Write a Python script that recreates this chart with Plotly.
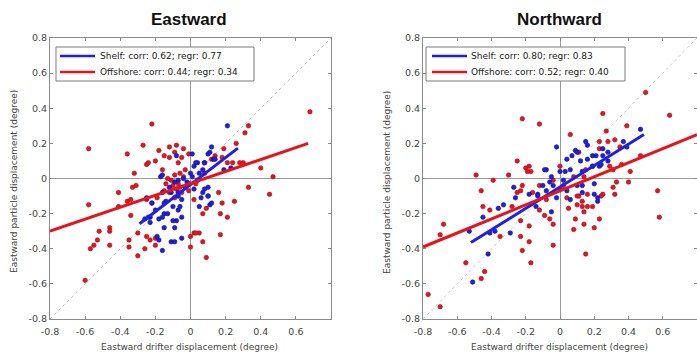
import plotly.graph_objects as go

# ---------------- data ----------------
# Left panel (Eastward): shelf (blue) points
east_shelf_x = [-0.08, -0.17, -0.07, -0.25, -0.22, -0.23, -0.18, -0.15, -0.13, -0.26, -0.23, -0.19, -0.18, -0.16,
                -0.11, -0.09, -0.05, -0.14, -0.16, -0.11, -0.07, -0.06, -0.08,
                0.21, 0.12, 0.11, 0.04, 0.08, 0.13, 0.19, 0.23, 0.08, 0.06, 0.10, 0.05, 0.11,
                0.01, 0.10, 0.14, 0.03, 0.07, -0.16, 0.01, 0.04, -0.01, -0.03, 0.10, 0.07, -0.07, -0.05,
                -0.15, -0.20, -0.10, -0.07, -0.24, -0.16, -0.10, -0.05, -0.15, -0.09, 0.12, 0.10, 0.08, 0.02,
                -0.02, 0.00, -0.04, 0.02, -0.12, -0.09, 0.05]
east_shelf_y = [0.13, 0.01, -0.01, -0.11, -0.14, -0.22, -0.23, -0.20, -0.20, -0.23, -0.25, -0.33, -0.35, -0.41,
                -0.36, -0.36, -0.34, -0.13, -0.08, -0.08, -0.10, -0.16, -0.24,
                0.30, 0.18, 0.15, 0.09, 0.09, 0.11, 0.05, 0.06, -0.06, -0.11, -0.10, -0.16, -0.15,
                0.14, 0.14, 0.11, 0.09, 0.05, 0.02, 0.01, -0.01, -0.03, -0.05, -0.05, -0.08, -0.08, -0.12,
                -0.14, -0.18, -0.16, -0.18, -0.22, -0.22, -0.24, -0.22, -0.28, -0.28, -0.14, -0.10, 0.09, 0.07,
                -0.02, 0.03, 0.00, -0.06, -0.05, -0.02, 0.03]

# Left panel (Eastward): offshore (red) points
east_off_x = [-0.22, -0.58, -0.27, -0.36, -0.25, -0.32, -0.31, -0.33, -0.41, -0.36, -0.34, -0.58, -0.41, -0.34,
              -0.52, -0.46, -0.46, -0.53, -0.46, -0.57, -0.55, -0.35, -0.35, -0.30, -0.30, -0.25, -0.23, -0.26,
              -0.20, -0.60, -0.20,
              0.68, 0.33, 0.31, 0.26, 0.19, 0.14, 0.21, 0.28, 0.30, 0.40, 0.47, 0.33, 0.45, 0.16, 0.25, 0.02,
              0.09, 0.17, 0.02, 0.05, 0.07, 0.17, 0.09, 0.00,
              -0.24, -0.15, -0.12, -0.09, -0.05, -0.07, -0.01, -0.16, -0.03, -0.04, -0.07, -0.15, -0.12, -0.19,
              -0.09, -0.01, 0.03, 0.08, 0.12, 0.18, 0.24, -0.25, -0.22, 0.21, 0.03, 0.00, 0.18, 0.07,
              -0.10, -0.08, -0.06, -0.11, -0.13, -0.05, -0.09, -0.14, -0.06, -0.20, -0.18, -0.12, -0.08, -0.04]
east_off_y = [0.31, 0.17, 0.19, 0.14, 0.08, 0.03, -0.04, -0.05, -0.08, -0.13, -0.12, -0.15, -0.16, -0.21,
              -0.30, -0.28, -0.30, -0.35, -0.38, -0.40, -0.38, -0.35, -0.39, -0.31, -0.44, -0.33, -0.35, -0.40,
              -0.38, -0.58, -0.34,
              0.38, 0.30, 0.26, 0.20, 0.17, 0.13, 0.09, 0.09, 0.09, 0.06, 0.01, -0.05, -0.09, -0.08, -0.13, -0.12,
              -0.17, -0.20, -0.31, -0.31, -0.36, -0.32, -0.45, -0.39,
              0.09, 0.13, 0.12, 0.15, 0.12, 0.09, 0.14, 0.05, 0.05, 0.01, -0.03, -0.07, -0.08, -0.11,
              -0.11, -0.07, -0.03, 0.03, 0.11, 0.12, 0.09, -0.12, -0.14, -0.22, -0.31, -0.33, -0.14, -0.20,
              -0.04, -0.06, -0.05, -0.01, 0.00, -0.08, 0.02, -0.03, 0.03, 0.10, 0.16, 0.18, 0.19, 0.17]

# Right panel (Northward): shelf (blue) points
north_shelf_x = [-0.02, -0.08, -0.27, -0.26, -0.33, -0.36, -0.45, -0.13, -0.10, -0.06, -0.14, -0.05, -0.29, -0.38,
                 -0.41, -0.53, -0.42, -0.51,
                 0.47, 0.16, 0.09, 0.19, 0.25, 0.04, 0.12, 0.19, 0.23, 0.03, 0.13, 0.20, 0.20, 0.22,
                 0.15, 0.07, 0.10, 0.16, 0.21, 0.25, 0.28, 0.19, 0.24, 0.28, 0.13, 0.06, 0.00, -0.09, -0.05, 0.02,
                 -0.04, -0.08, -0.13, 0.10, 0.13, 0.04, -0.18, -0.02, 0.22, 0.06, 0.37, 0.39]
north_shelf_y = [0.18, 0.05, -0.05, -0.11, -0.15, -0.17, -0.22, -0.09, -0.04, -0.02, -0.16, -0.19, -0.31, -0.30,
                 -0.31, -0.30, -0.43, -0.59,
                 0.28, 0.19, 0.16, 0.13, 0.13, 0.11, 0.10, 0.07, 0.07, 0.04, -0.04, -0.03, -0.09, -0.13,
                 0.21, 0.13, 0.15, 0.11, 0.13, 0.17, 0.15, 0.07, 0.08, 0.10, 0.04, 0.05, 0.04, 0.05, 0.01, -0.01,
                 -0.04, -0.07, -0.10, -0.04, -0.08, -0.07, -0.09, -0.11, -0.11, -0.12, 0.21, 0.18]

# Right panel (Northward): offshore (red) points
north_off_x = [-0.22, -0.12, -0.25, -0.18, -0.20, -0.17, -0.49, -0.39, -0.30, -0.22, -0.25, -0.23, -0.28, -0.41,
               -0.46, -0.45, -0.16, -0.12, -0.09, -0.06, -0.04, -0.23, -0.18, -0.23, -0.35, -0.68, -0.70, -0.18,
               -0.22, -0.17, -0.55, -0.44, -0.46, -0.77, -0.70, -0.04,
               0.50, 0.25, 0.64, 0.06, 0.27, 0.39, 0.32, 0.28, 0.35, 0.47, 0.23, 0.15, 0.29, 0.36, 0.41, 0.40,
               0.57, 0.58, 0.08, 0.02, 0.31, 0.32, 0.25, 0.11, 0.04, 0.13, 0.16, 0.10, 0.05, 0.14, 0.09, 0.23,
               0.20, 0.14, 0.08, 0.15,
               0.11, 0.00, 0.14, -0.04, 0.00, 0.10, 0.16, -0.12, -0.19, 0.23, 0.31, 0.33, 0.13, 0.19, 0.24, -0.08]
north_off_y = [0.34, 0.31, 0.10, 0.07, 0.06, 0.04, 0.02, -0.01, 0.02, -0.04, -0.08, -0.07, -0.16, -0.18,
               -0.07, -0.16, -0.08, -0.18, -0.21, -0.23, -0.26, -0.24, -0.27, -0.33, -0.33, -0.26, -0.32, -0.36,
               -0.41, -0.48, -0.48, -0.53, -0.57, -0.66, -0.73, -0.38,
               0.49, 0.37, 0.36, 0.25, 0.27, 0.30, 0.22, 0.21, 0.18, 0.13, 0.17, 0.05, 0.07, 0.08, 0.04, -0.02,
               -0.07, -0.22, 0.01, -0.04, -0.05, -0.09, -0.09, -0.10, -0.11, -0.13, -0.16, -0.15, -0.17, -0.19, -0.23, -0.23,
               -0.28, -0.26, -0.29, -0.43,
               0.15, 0.07, 0.01, -0.01, -0.06, -0.10, -0.09, -0.04, 0.04, 0.21, 0.05, -0.02, -0.16, -0.16, -0.10, -0.12]

# regression lines (end points)
east_shelf_fit_x = [-0.29, 0.27]
east_shelf_fit_y = [-0.258, 0.173]
east_off_fit_x = [-0.80, 0.67]
east_off_fit_y = [-0.300, 0.200]
north_shelf_fit_x = [-0.52, 0.49]
north_shelf_fit_y = [-0.365, 0.250]
north_off_fit_x = [-0.80, 0.80]
north_off_fit_y = [-0.390, 0.250]

one_to_one = [-0.8, 0.8]

legend_east = ["Shelf: corr: 0.62; regr: 0.77", "Offshore: corr: 0.44; regr: 0.34"]
legend_north = ["Shelf: corr: 0.80; regr: 0.83", "Offshore: corr: 0.52; regr: 0.40"]

tick_vals_x = [-0.8, -0.6, -0.4, -0.2, 0, 0.2, 0.4, 0.6]
tick_text_x = ["-0.8", "-0.6", "-0.4", "-0.2", "0", "0.2", "0.4", "0.6"]
tick_vals_y = [-0.8, -0.6, -0.4, -0.2, 0, 0.2, 0.4, 0.6, 0.8]
tick_text_y = ["-0.8", "-0.6", "-0.4", "-0.2", "0", "0.2", "0.4", "0.6", "0.8"]

titles = ["Eastward", "Northward"]
x_title = "Eastward drifter displacement (degree)"
y_title = "Eastward particle displacement (degree)"

# ---------------- styling ----------------
BLUE = "#1f1fe6"
RED = "#e8141c"
FONT = "DejaVu Sans, Verdana, sans-serif"
TFONT = "Liberation Sans, Arial, sans-serif"
W, H = 697, 358

fig = go.Figure()


def add_panel(xa, ya, sx, sy, ox, oy, sfx, sfy, ofx, ofy, names):
    fig.add_trace(go.Scatter(x=one_to_one, y=one_to_one, mode="lines",
                             line=dict(color="#c8c8c8", width=1, dash="dot"),
                             showlegend=False, xaxis=xa, yaxis=ya, hoverinfo="skip"))
    fig.add_trace(go.Scatter(x=ox, y=oy, mode="markers", name=names[1],
                             marker=dict(color=RED, size=4.5, line=dict(width=0.6, color="#a01020")),
                             showlegend=False, xaxis=xa, yaxis=ya))
    fig.add_trace(go.Scatter(x=sx, y=sy, mode="markers", name=names[0],
                             marker=dict(color=BLUE, size=4.5, line=dict(width=0.6, color="#10108a")),
                             showlegend=False, xaxis=xa, yaxis=ya))
    fig.add_trace(go.Scatter(x=sfx, y=sfy, mode="lines", name=names[0], showlegend=False,
                             line=dict(color=BLUE, width=3), xaxis=xa, yaxis=ya))
    fig.add_trace(go.Scatter(x=ofx, y=ofy, mode="lines", name=names[1], showlegend=False,
                             line=dict(color=RED, width=3), xaxis=xa, yaxis=ya))


add_panel("x", "y", east_shelf_x, east_shelf_y, east_off_x, east_off_y,
          east_shelf_fit_x, east_shelf_fit_y, east_off_fit_x, east_off_fit_y, legend_east)
add_panel("x2", "y2", north_shelf_x, north_shelf_y, north_off_x, north_off_y,
          north_shelf_fit_x, north_shelf_fit_y, north_off_fit_x, north_off_fit_y, legend_north)

ydom = [1 - 319 / H, 1 - 38 / H]

axis_common = dict(range=[-0.8, 0.8], showgrid=False, zeroline=True, zerolinecolor="#9a9a9a",
                   zerolinewidth=1, showline=True, linecolor="#8a8a8a", linewidth=1, mirror="ticks",
                   ticks="inside", ticklen=3, tickcolor="#8a8a8a", automargin=False,
                   tickfont=dict(family=FONT, size=9.5, color="#444444"))

fig.update_layout(
    width=W, height=H,
    margin=dict(l=0, r=0, t=0, b=0, autoexpand=False),
    paper_bgcolor="white", plot_bgcolor="white",
    showlegend=False,
    xaxis=dict(domain=[50 / W, 331 / W], anchor="y", tickvals=tick_vals_x, ticktext=tick_text_x,
               ticklabelstandoff=4, **axis_common),
    yaxis=dict(domain=ydom, anchor="x", tickvals=tick_vals_y, ticktext=tick_text_y, **axis_common),
    xaxis2=dict(domain=[423 / W, 1.0], anchor="y2", tickvals=tick_vals_x, ticktext=tick_text_x,
                ticklabelstandoff=4, **axis_common),
    yaxis2=dict(domain=ydom, anchor="x2", tickvals=tick_vals_y, ticktext=tick_text_y, **axis_common),
)


def px(x):
    return x / W


def py(y):
    return 1 - y / H


ann = []
shapes = []
for cx, t in zip([189, 559], titles):
    ann.append(dict(x=px(cx), y=py(19.5), xref="paper", yref="paper", text="<b>%s</b>" % t,
                    xanchor="center", yanchor="middle",
                    showarrow=False, font=dict(family=TFONT, size=17, color="#111")))
    ann.append(dict(x=px(cx), y=py(347), xref="paper", yref="paper", text=x_title,
                    xanchor="center", yanchor="middle",
                    showarrow=False, font=dict(family=FONT, size=9, color="#444")))
for cx in [14, 387]:
    ann.append(dict(x=px(cx), y=py(182), xref="paper", yref="paper", text=y_title, textangle=-90,
                    xanchor="center", yanchor="middle",
                    showarrow=False, font=dict(family=FONT, size=9, color="#444")))

# legend boxes (drawn as layout decorations)
for (bx0, bx1, lx0, lx1, tx), labels in zip([(56, 254, 60, 95, 98), (426, 625, 432, 467, 469)],
                                            [legend_east, legend_north]):
    shapes.append(dict(type="rect", xref="paper", yref="paper", x0=px(bx0), x1=px(bx1),
                       y0=py(81), y1=py(47), line=dict(color="#7a7a7a", width=1), fillcolor="white",
                       layer="above"))
    for row_y, col, lab in zip([56, 72], [BLUE, RED], labels):
        shapes.append(dict(type="line", xref="paper", yref="paper", x0=px(lx0), x1=px(lx1),
                           y0=py(row_y), y1=py(row_y), line=dict(color=col, width=2.5), layer="above"))
        ann.append(dict(x=px(tx), y=py(row_y), xref="paper", yref="paper", text=lab,
                        xanchor="left", yanchor="middle", showarrow=False,
                        font=dict(family=FONT, size=9, color="#222")))

fig.update_layout(annotations=ann, shapes=shapes)

fig.write_html("out.html",
               post_script="document.body.style.margin='0';document.body.style.overflow='hidden';")
